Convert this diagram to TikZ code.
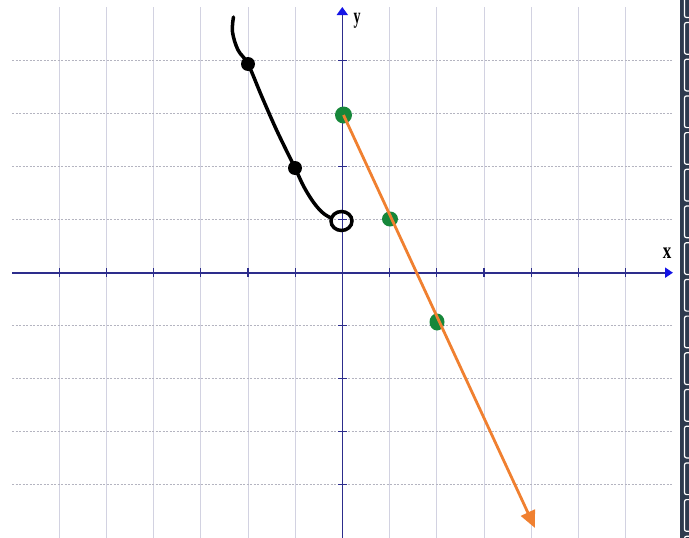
\documentclass[tikz,border=0pt]{standalone}
\usepackage{fontspec}
\setmainfont{Liberation Serif}
\usetikzlibrary{arrows.meta,shapes.geometric}
\definecolor{axisnavy}{RGB}{45,45,140}
\definecolor{tipblue}{RGB}{20,20,230}
\definecolor{vgridc}{RGB}{210,210,225}
\definecolor{hgridc}{RGB}{180,180,192}
\definecolor{graphorange}{RGB}{240,128,48}
\definecolor{dotgreen}{RGB}{22,135,58}
\definecolor{stripnavy}{RGB}{46,58,78}
\tikzset{
  vgrid/.style={draw=vgridc, line width=0.8pt},
  hgrid/.style={draw=hgridc, line width=0.8pt, dash pattern=on 2pt off 1.5pt},
  axisline/.style={draw=axisnavy, line width=2pt, -{Triangle[length=8pt,width=10pt,color=tipblue]}},
  tickmark/.style={draw=axisnavy, line width=1.2pt},
  curveline/.style={draw=black, line width=3.5pt, line cap=round, line join=round},
  bdot/.style={circle, fill=black, inner sep=0pt, minimum size=14pt},
  odot/.style={ellipse, draw=black, line width=3.5pt, inner sep=0pt, minimum width=21pt, minimum height=19pt},
  gdot/.style={ellipse, fill=dotgreen, inner sep=0pt, minimum width=16pt, minimum height=15pt},
  orangeline/.style={draw=graphorange, line width=2.8pt, -{Triangle[length=17pt,width=15pt]}},
  axlabel/.style={inner sep=0pt, text=black, font=\bfseries},
  stripbox/.style={draw=white, line width=1.2pt, rounded corners=2pt}
}
\begin{document}
\begin{tikzpicture}[x=1pt,y=-1pt]
\useasboundingbox (0,0) rectangle (689,538);
\fill[white] (0,0) rectangle (689,538);
% grid
\foreach \i in {-6,-5,-4,-3,-2,-1,1,2,3,4,5,6} {
  \draw[vgrid] ({342.3+47.2*\i},7) -- ({342.3+47.2*\i},538);
}
\foreach \j in {-4,-3,-2,-1,1,2,3,4} {
  \draw[hgrid] (12,{272.7+53*\j}) -- (673,{272.7+53*\j});
}
% axes
\coordinate (xstart) at (12,272.7);
\coordinate (xend) at (673,272.7);
\coordinate (ystart) at (342.3,538);
\coordinate (yend) at (342.3,7);
\draw[axisline] (xstart) -- (xend);
\draw[axisline, line width=1.6pt, -{Triangle[length=8pt,width=11pt,color=tipblue]}] (ystart) -- (yend);
% ticks
\foreach \i in {-6,-5,-4,-3,-2,-1,1,2,3,4,5,6} {
  \draw[tickmark] ({342.3+47.2*\i},268) -- ({342.3+47.2*\i},277);
}
\foreach \j in {-4,-3,-2,-1,1,2,3,4} {
  \draw[tickmark] (338,{272.7+53*\j}) -- (347,{272.7+53*\j});
}
% labels
\node[axlabel] (ylab) at (357,21) {\fontsize{14}{14}\selectfont\scalebox{1}[1.6]{y}};
\node[axlabel] (xlab) at (667,253) {\fontsize{17}{17}\selectfont\scalebox{1}[1.35]{x}};
% black curve
\draw[curveline] plot[smooth, tension=0.6] coordinates {(233.5,17) (232.5,32) (238,50) (248,64) (262,97) (277,131) (295,168) (304,187) (314,203) (323,213) (331,218)};
\node[bdot] (b1) at (248,64) {};
\node[bdot] (b2) at (295,168) {};
\node[odot] (o1) at (341.5,221) {};
% green points
\node[gdot, minimum width=17pt, minimum height=17pt] (g1) at (343.5,115) {};
\node[gdot] (g2) at (390,219) {};
\node[gdot, minimum width=15pt, minimum height=17pt] (g3) at (437,322) {};
% orange line
\coordinate (otip) at (535,528);
\draw[orangeline] (g1.center) -- (otip);
% right strip
\fill[stripnavy] (680,0) rectangle (689,538);
\begin{scope}
\clip (680,0) rectangle (689,538);
\foreach \k in {-1,0,...,14} {
  \draw[stripbox] (684.5,{20+36.7*\k+2.5}) rectangle (696,{20+36.7*(\k+1)-2.5});
}
\end{scope}
\end{tikzpicture}
\end{document}
